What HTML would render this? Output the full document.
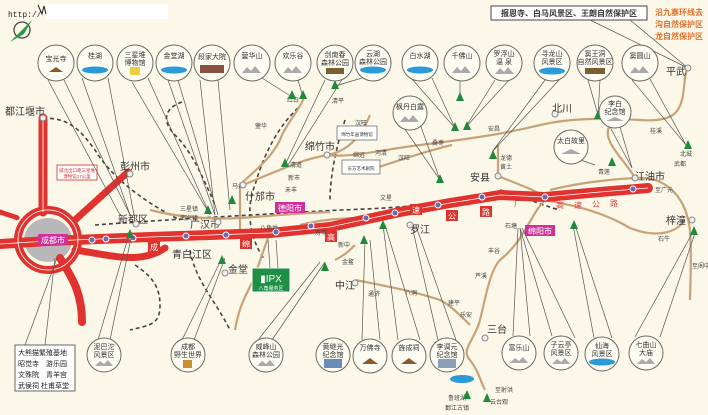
<!DOCTYPE html>
<html><head><meta charset="utf-8"><style>
html,body{margin:0;padding:0;background:#fbf8e9;}
svg{display:block;font-family:"Liberation Sans","Noto Sans CJK SC",sans-serif;}
.c{fill:#fdfcf3;stroke:#6a6a60;stroke-width:1}
.l{stroke:#555;stroke-width:0.7;fill:none}
.t{font-size:7px;fill:#333;text-anchor:middle}
.s{font-size:6px;fill:#444}
.m{font-size:10px;fill:#333}
.rd{stroke:#c9a278;stroke-width:2.2;fill:none}
.rw{stroke:#444;stroke-width:1.6;fill:none;stroke-dasharray:4 3}
.tr{fill:#1e8a3a}
</style></head><body>
<svg width="708" height="415" viewBox="0 0 708 415">
<rect width="708" height="415" fill="#fbf8e9"/>
<!-- header -->
<rect x="46" y="4" width="122" height="15" fill="#fff"/>
<text x="8" y="17" style="font-size:8px;font-family:'Liberation Mono',monospace;fill:#222">http://</text>
<path d="M38 5 L42 14 L44 6 L46 14" stroke="#222" fill="none" stroke-width="1"/>
<circle cx="22" cy="30" r="8" fill="none" stroke="#444" stroke-width="1.3"/>
<path d="M10 42 L32 20 L24 34 Z" fill="#2a9a4a"/>
<rect x="491" y="6" width="156" height="14" fill="#fff" stroke="#444"/>
<text x="569" y="16" class="t" style="font-size:8px;font-weight:bold">报恩寺、白马风景区、王朗自然保护区</text>
<text x="655" y="15" style="font-size:8px;fill:#e0702a;font-weight:bold">沿九寨环线去</text>
<text x="655" y="27" style="font-size:8px;fill:#e0702a;font-weight:bold">沟自然保护区</text>
<text x="655" y="39" style="font-size:8px;fill:#e0702a;font-weight:bold">龙自然保护区</text>
<line x1="590" y1="20" x2="688" y2="68" class="l"/><line x1="630" y1="20" x2="688" y2="68" class="l"/>

<!-- railways -->
<path class="rw" d="M43 118 C70 118 80 130 95 150 C110 175 140 200 180 220"/>
<path class="rw" d="M182 102 C160 110 165 125 175 135 C190 150 200 170 215 205"/>
<path class="rw" d="M298 108 C280 125 265 150 255 185 C245 210 250 240 265 260"/>
<path class="rw" d="M135 265 C150 275 160 285 160 305 C160 325 150 325 130 330"/>
<path class="rw" d="M190 250 C195 280 215 300 230 330"/>
<path class="rw" d="M95 225 C160 220 250 215 340 210 C400 208 430 205 475 196"/>
<path class="rw" d="M500 190 C520 195 540 205 560 210"/>
<path class="rw" d="M345 120 C335 150 330 180 330 200"/>

<!-- tan roads -->
<path class="rd" d="M240 185 C255 170 270 160 280 140 C285 125 300 110 305 95"/>
<path class="rd" d="M243 185 C280 170 300 160 327 155 C345 152 360 140 370 115"/>
<path class="rd" d="M327 155 C350 158 380 150 420 145 C460 140 500 135 540 125 C570 118 600 118 640 120 C670 122 680 115 683 95 C685 80 685 72 688 68"/>
<path class="rd" d="M370 170 C400 160 430 150 452 145"/>
<path class="rd" d="M498 176 L498 145"/>
<path class="rd" d="M498 176 C520 185 535 190 545 197"/>
<path class="rd" d="M550 190 C570 185 600 180 635 178 C660 176 685 190 690 230 C692 260 690 290 690 300"/>
<path class="rd" d="M635 178 C625 160 600 140 610 125"/>
<path class="rd" d="M545 200 C570 205 600 210 630 228 C660 240 680 230 684 220"/>
<path class="rd" d="M545 200 C530 215 525 240 500 260 C490 270 485 300 480 320 C475 340 460 350 470 360 C478 370 480 380 485 390"/>
<path class="rd" d="M355 280 C380 285 410 290 440 300 C450 305 460 315 470 325"/>
<path class="rd" d="M335 260 C345 255 350 250 355 245"/>
<path class="rd" d="M270 232 L255 275 C250 290 240 300 235 330"/>
<path class="rd" d="M240 185 L240 232"/>
<path class="rd" d="M300 225 C320 220 340 218 360 218"/>
<path class="rd" d="M150 210 C170 215 200 220 240 218 C270 216 300 213 330 212"/>

<!-- chengdu grey area -->
<ellipse cx="48" cy="240" rx="24" ry="22" fill="#b8b8b8"/>
<!-- red highways -->
<g fill="none" stroke="#e0322f" stroke-linecap="round">
<path d="M43 118 L43 212" stroke-width="9"/>
<path d="M60 258 C70 275 82 290 82 322" stroke-width="8"/>
<path d="M75 250 C110 255 140 265 165 248" stroke-width="7"/>
<circle cx="48" cy="240" r="30" stroke-width="8"/>
<path d="M0 244 L48 241 L150 237 L270 233 L330 227 L400 212 L450 203 L500 195 L545 197 L600 192 L648 188" stroke-width="10"/>
<path d="M75 220 L128 172" stroke-width="7" stroke-dasharray="3 2"/>
<path d="M0 212 L18 218" stroke-width="5" stroke-dasharray="3 2"/>
</g>
<g fill="none" stroke="#fff" stroke-width="0.8">
<path d="M0 244 L48 241 L150 237 L270 233 L330 227 L400 212 L450 203 L500 195 L545 197 L600 192 L648 188"/>
<circle cx="48" cy="240" r="30"/>
<path d="M43 118 L43 212"/>
</g>
<!-- highway sign boxes -->
<g fill="#d8352f"><rect x="148" y="241" width="12" height="11"/><rect x="240" y="238" width="12" height="11"/><rect x="325" y="231" width="12" height="11"/><rect x="410" y="204" width="12" height="11"/><rect x="446" y="210" width="12" height="11"/><rect x="480" y="206" width="12" height="11"/></g>
<g font-size="8" fill="#fff" text-anchor="middle"><text x="154" y="250">成</text><text x="246" y="247">绵</text><text x="331" y="240">高</text><text x="416" y="213">速</text><text x="452" y="219">公</text><text x="486" y="215">路</text></g>
<g font-size="8" fill="#e04040" text-anchor="middle"><text x="560" y="208">高</text><text x="578" y="208">速</text><text x="596" y="207">公</text><text x="614" y="206">路</text><text x="518" y="206">广</text></g>
<!-- stations -->
<g fill="#6a6ab0" stroke="#fff" stroke-width="1"><circle cx="92" cy="240" r="3"/><circle cx="106" cy="239" r="3"/><circle cx="133" cy="238" r="3"/><circle cx="186" cy="236" r="3"/><circle cx="226" cy="235" r="3"/><circle cx="276" cy="232" r="3"/><circle cx="311" cy="226" r="3"/><circle cx="366" cy="218" r="3"/><circle cx="395" cy="213" r="3"/><circle cx="438" cy="205" r="3"/><circle cx="482" cy="197" r="3"/><circle cx="545" cy="197" r="3"/><circle cx="633" cy="189" r="3"/></g>
<!-- city labels -->
<rect x="38" y="234" width="30" height="11" fill="#d0309a" rx="1"/><text x="53" y="243" font-size="8" fill="#fff" text-anchor="middle">成都市</text>
<rect x="275" y="202" width="30" height="11" fill="#d0309a"/><text x="290" y="211" font-size="8" fill="#fff" text-anchor="middle">德阳市</text>
<rect x="525" y="225" width="30" height="11" fill="#d0309a"/><text x="540" y="234" font-size="8" fill="#fff" text-anchor="middle">绵阳市</text>
<g class="m"><text x="5" y="115">都江堰市</text><text x="120" y="170">彭州市</text><text x="118" y="223">新都区</text><text x="190" y="228">广汉市</text><text x="172" y="258">青白江区</text><text x="228" y="273">金堂</text><text x="245" y="200">什邡市</text><text x="305" y="150">绵竹市</text><text x="335" y="289">中江</text><text x="410" y="233">罗江</text><text x="470" y="181">安县</text><text x="552" y="112">北川</text><text x="635" y="180">江油市</text><text x="666" y="224">梓潼</text><text x="487" y="333">三台</text><text x="666" y="75">平武</text></g>
<g class="s"><text x="287" y="102">红白</text><text x="255" y="128">蓥华</text><text x="332" y="103">清平</text><text x="290" y="167">清道</text><text x="288" y="180">新市</text><text x="285" y="192">禾丰</text><text x="232" y="188">马井</text><text x="180" y="211">三星镇</text><text x="180" y="220">南兴镇</text><text x="260" y="230">八角井</text><text x="315" y="235">寿丰</text><text x="338" y="247">新中</text><text x="342" y="264">金鳌</text><text x="368" y="296">通济</text><text x="405" y="295">八洞</text><text x="448" y="305">建平</text><text x="460" y="317">乐安</text><text x="488" y="253">丰谷</text><text x="475" y="278">芦溪</text><text x="505" y="228">石塘</text><text x="355" y="125">汉旺</text><text x="353" y="157">绵远</text><text x="375" y="155">河清</text><text x="398" y="160">汉旺</text><text x="432" y="145">桑枣</text><text x="488" y="131">安昌</text><text x="500" y="160">龙德</text><text x="500" y="169">黄土</text><text x="380" y="200">文星</text><text x="598" y="174">青莲</text><text x="650" y="133">桂溪</text><text x="680" y="156">北城</text><text x="674" y="166">武都</text><text x="658" y="241">石牛</text><text x="692" y="268">至阆中</text><text x="655" y="192">至广元</text><text x="495" y="392">至射洪</text><text x="490" y="404">云台观</text><text x="448" y="400">鲁班湖</text><text x="445" y="410">郪江古镇</text></g>
<!-- info boxes -->
<rect x="57" y="165" width="40" height="15" fill="#fff" stroke="#d03030" stroke-width="0.8"/><text x="77" y="172" font-size="4.5" fill="#d03030" text-anchor="middle">城北出口距三星堆</text><text x="77" y="178" font-size="4.5" fill="#d03030" text-anchor="middle">博物馆17公里</text>
<rect x="337" y="126" width="40" height="14" fill="#fff" stroke="#444" stroke-width="0.6"/><text x="357" y="136" font-size="4.5" fill="#333" text-anchor="middle">绵竹年画博物馆</text>
<rect x="342" y="160" width="38" height="14" fill="#fff" stroke="#444" stroke-width="0.6"/><text x="361" y="170" font-size="4.5" fill="#333" text-anchor="middle">东方艺术剧院</text>
<rect x="15" y="345" width="60" height="46" fill="#fff" stroke="#666"/>
<g font-size="7" fill="#222"><text x="18" y="355">大熊猫繁殖基地</text><text x="18" y="366">昭觉寺　游乐园</text><text x="18" y="377">文殊院　青羊宫</text><text x="18" y="388">武侯祠 杜甫草堂</text></g>
<rect x="252" y="268" width="38" height="24" fill="#1e8f45" stroke="#fff"/><text x="271" y="282" font-size="10" fill="#fff" text-anchor="middle">▮IPX</text><text x="271" y="290" font-size="5" fill="#fff" text-anchor="middle">八角服务区</text>

<!-- leader lines top -->
<g class="l">
<path d="M48 80 L120 215 M64 80 L130 215"/><path d="M82 78 L130 215 M108 78 L134 215"/><path d="M132 82 L210 215 M148 78 L210 215"/><path d="M168 80 L215 215 M178 80 L218 215"/><path d="M200 80 L215 215 M218 80 L230 210"/>
<path d="M262 78 L292 97 M298 80 L303 97"/><path d="M325 80 L285 165 M343 78 L288 165"/>
<path d="M362 78 L335 86"/><path d="M412 79 L455 128 M432 78 L455 128"/><path d="M460 80 L460 100"/><path d="M495 80 L465 128 M510 79 L465 128"/><path d="M545 80 L492 152 M560 79 L492 152"/><path d="M588 80 L598 115 M600 80 L598 115"/><path d="M632 80 L686 145 M650 79 L686 145"/>
<path d="M402 125 L440 180 M420 124 L440 180"/><path d="M575 158 L595 165"/><path d="M610 127 L632 168 M620 127 L632 168"/>
</g>
<!-- leader lines bottom -->
<g class="l">
<path d="M25 345 L57 258 M45 345 L55 258"/><path d="M98 340 L128 238 M110 340 L131 238"/><path d="M182 340 L222 258 M194 340 L225 258"/><path d="M258 340 L320 262 M272 340 L325 262"/><path d="M268 240 L270 268 M276 240 L278 268"/>
<path d="M362 340 L365 240 M380 340 L370 240"/><path d="M398 340 L383 225 M420 340 L385 225"/><path d="M438 340 L412 226 M456 340 L416 226"/><path d="M513 336 L518 228 M530 336 L520 228"/><path d="M552 336 L520 228 M575 338 L522 228"/><path d="M594 338 L573 225 M612 338 L575 225"/><path d="M635 337 L694 230 M660 337 L696 230"/>
</g>
<!-- trees -->
<g class="tr"><path d="M292 90 l-4 9 h8 z"/><path d="M303 90 l-4 9 h8 z"/><path d="M335 80 l-4 9 h8 z"/><path d="M285 158 l-4 9 h8 z"/><path d="M460 92 l-4 9 h8 z"/><path d="M455 122 l-4 9 h8 z"/><path d="M467 121 l-4 9 h8 z"/><path d="M493 150 l-4 9 h8 z"/><path d="M440 174 l-4 9 h8 z"/><path d="M598 110 l-4 9 h8 z"/><path d="M688 140 l-4 9 h8 z"/><path d="M612 157 l-4 9 h8 z"/><path d="M208 205 l-4 9 h8 z"/><path d="M232 195 l-4 9 h8 z"/><path d="M130 229 l-4 9 h8 z"/><path d="M222 255 l-4 9 h8 z"/><path d="M325 262 l-4 9 h8 z"/><path d="M364 235 l-4 9 h8 z"/><path d="M383 220 l-4 9 h8 z"/><path d="M574 220 l-4 9 h8 z"/><path d="M694 226 l-4 9 h8 z"/><path d="M467 390 l-4 9 h8 z"/><path d="M487 393 l-4 9 h8 z"/></g>
<ellipse cx="462" cy="379" rx="12" ry="4" fill="#2a9ad8"/>

<!-- top circles -->
<g>
<circle class="c" cx="56" cy="63" r="18"/><text class="t" x="56" y="61">宝光寺</text><path d="M49 72 l7 -5 l7 5 z" fill="#8a5a2a"/>
<circle class="c" cx="95" cy="63" r="18"/><text class="t" x="95" y="58">桂湖</text><ellipse cx="95" cy="70" rx="13" ry="3.5" fill="#2a9ad8"/>
<circle class="c" cx="135" cy="63" r="18"/><text class="t" x="135" y="57">三星堆</text><text class="t" x="135" y="65">博物馆</text><rect x="130" y="67" width="10" height="8" fill="#e8d040"/>
<circle class="c" cx="174" cy="63" r="18"/><text class="t" x="174" y="58">金堂湖</text><ellipse cx="174" cy="70" rx="13" ry="3.5" fill="#2a9ad8"/>
<circle class="c" cx="212" cy="63" r="18"/><text class="t" x="212" y="59">段家大院</text><rect x="200" y="65" width="24" height="8" fill="#8a5040"/>
<circle class="c" cx="252" cy="63" r="18"/><text class="t" x="252" y="58">蓥华山</text><path d="M242 73 l5-6 l4 4 l4-5 l6 7z" fill="#aaa"/>
<circle class="c" cx="293" cy="63" r="18"/><text class="t" x="293" y="58">欢乐谷</text><path d="M283 73 l5-6 l4 4 l4-5 l6 7z" fill="#aaa"/>
<circle class="c" cx="335" cy="63" r="18"/><text class="t" x="335" y="57">剑南春</text><text class="t" x="335" y="65">森林公园</text><rect x="326" y="68" width="18" height="6" fill="#7a6030"/>
<circle class="c" cx="373" cy="63" r="18"/><text class="t" x="373" y="56">云湖</text><text class="t" x="373" y="64">森林公园</text><ellipse cx="373" cy="70" rx="13" ry="3.5" fill="#2a9ad8"/>
<circle class="c" cx="420" cy="63" r="18"/><text class="t" x="420" y="58">白水湖</text><ellipse cx="420" cy="70" rx="13" ry="3.5" fill="#2a9ad8"/>
<circle class="c" cx="462" cy="63" r="18"/><text class="t" x="462" y="58">千佛山</text><path d="M452 73 l5-6 l4 4 l4-5 l6 7z" fill="#aaa"/>
<circle class="c" cx="504" cy="63" r="18"/><text class="t" x="504" y="56">罗浮山</text><text class="t" x="504" y="64">温 泉</text><path d="M495 74 l5-6 l4 4 l4-5 l6 7z" fill="#aaa"/>
<circle class="c" cx="552" cy="63" r="18"/><text class="t" x="552" y="56">寻龙山</text><text class="t" x="552" y="64">风景区</text><ellipse cx="552" cy="71" rx="13" ry="3.5" fill="#2a9ad8"/>
<circle class="c" cx="595" cy="63" r="18"/><text class="t" x="595" y="56">窦王洞</text><text class="t" x="595" y="64">自然风景区</text><rect x="585" y="68" width="20" height="6" fill="#7a6030"/>
<circle class="c" cx="640" cy="63" r="18"/><text class="t" x="640" y="58">窦圆山</text><path d="M630 73 l5-6 l4 4 l4-5 l6 7z" fill="#aaa"/>
<circle class="c" cx="410" cy="113" r="17"/><text class="t" x="410" y="109">枫丹白露</text><path d="M400 122 l5-6 l4 4 l4-5 l6 7z" fill="#aaa"/>
<circle class="c" cx="571" cy="147" r="17"/><text class="t" x="571" y="143">太白故里</text><path d="M561 154 l10-5 l10 5z" fill="#aaa"/>
<circle class="c" cx="615" cy="112" r="16"/><text class="t" x="615" y="106">李白</text><text class="t" x="615" y="114">纪念馆</text><path d="M606 121 l9-4 l9 4z" fill="#aaa"/>
</g>
<!-- bottom circles -->
<g>
<circle class="c" cx="104" cy="355" r="17"/><text class="t" x="104" y="349">泥巴沱</text><text class="t" x="104" y="357">风景区</text><path d="M95 366 l5-5 l4 3 l4-4 l5 6z" fill="#aaa"/>
<circle class="c" cx="188" cy="355" r="17"/><text class="t" x="188" y="349">成都</text><text class="t" x="188" y="357">野生世界</text><rect x="183" y="360" width="9" height="8" fill="#c89030"/>
<circle class="c" cx="266" cy="355" r="17"/><text class="t" x="266" y="349">威峰山</text><text class="t" x="266" y="357">森林公园</text><path d="M257 366 l5-5 l4 3 l4-4 l5 6z" fill="#aaa"/>
<circle class="c" cx="333" cy="355" r="17"/><text class="t" x="333" y="349">黄继光</text><text class="t" x="333" y="357">纪念馆</text><rect x="324" y="359" width="18" height="9" fill="#6a8ab8"/>
<circle class="c" cx="370" cy="356" r="17"/><text class="t" x="370" y="350">万佛寺</text><path d="M362 364 l8-6 l8 6z" fill="#8a5a2a"/>
<circle class="c" cx="409" cy="356" r="17"/><text class="t" x="409" y="350">旌成祠</text><path d="M401 364 l8-6 l8 6z" fill="#8a5a2a"/>
<circle class="c" cx="447" cy="355" r="17"/><text class="t" x="447" y="349">李调元</text><text class="t" x="447" y="357">纪念馆</text><rect x="438" y="359" width="18" height="9" fill="#8aa0b8"/>
<circle class="c" cx="519" cy="353" r="17"/><text class="t" x="519" y="350">富乐山</text><path d="M510 363 l5-5 l4 3 l4-4 l5 6z" fill="#aaa"/>
<circle class="c" cx="561" cy="353" r="17"/><text class="t" x="561" y="347">子云亭</text><text class="t" x="561" y="355">风景区</text><path d="M552 364 l5-5 l4 3 l4-4 l5 6z" fill="#aaa"/>
<circle class="c" cx="602" cy="354" r="17"/><text class="t" x="602" y="348">仙海</text><text class="t" x="602" y="356">风景区</text><ellipse cx="602" cy="362" rx="13" ry="3.5" fill="#2a9ad8"/>
<circle class="c" cx="646" cy="353" r="17"/><text class="t" x="646" y="347">七曲山</text><text class="t" x="646" y="355">大庙</text><path d="M637 364 l5-5 l4 3 l4-4 l5 6z" fill="#aaa"/>
</g>
<!-- town markers -->
<g fill="#eee" stroke="#888" stroke-width="1"><circle cx="43" cy="118" r="3"/><circle cx="130" cy="174" r="3"/><circle cx="136" cy="224" r="3"/><circle cx="218" cy="222" r="3"/><circle cx="225" cy="273" r="3"/><circle cx="243" cy="185" r="3"/><circle cx="327" cy="155" r="3"/><circle cx="355" cy="283" r="3"/><circle cx="498" cy="176" r="3"/><circle cx="555" cy="114" r="3"/><circle cx="635" cy="178" r="3"/><circle cx="688" cy="68" r="3"/><circle cx="692" cy="220" r="3"/><circle cx="485" cy="338" r="3"/><circle cx="410" cy="225" r="3"/></g>
</svg>
</body></html>
